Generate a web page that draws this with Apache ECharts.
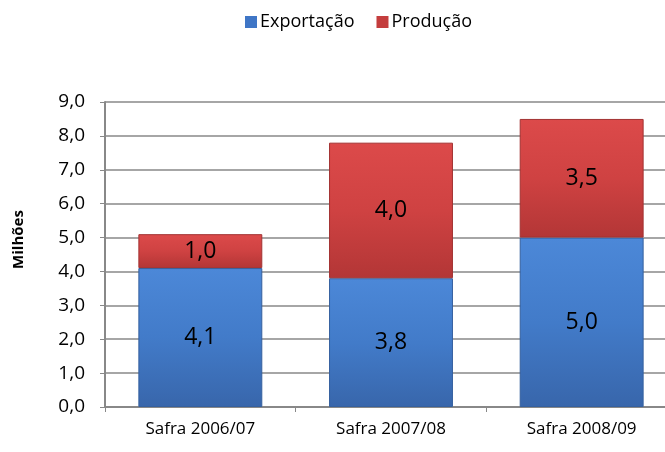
<!DOCTYPE html>
<html>
<head>
<meta charset="utf-8">
<script src="https://cdn.jsdelivr.net/npm/echarts@6/dist/echarts.min.js"></script>
<style>
  html, body { margin: 0; padding: 0; background: #fff; overflow: hidden; width: 665px; height: 452px; }
  #main { width: 677px; height: 452px; }
</style>
</head>
<body>
<div id="main"></div>
<script>
var categories = ['Safra 2006/07', 'Safra 2007/08', 'Safra 2008/09'];
var exportacao = [4.1, 3.8, 5.0];
var producao = [1.0, 4.0, 3.5];

var font = '"Open Sans", "Liberation Sans", sans-serif';

function fmt(v) {
    return v.toFixed(1).replace('.', ',');
}

// vertical shading, lighter on top
function grad(top, mid, bottom) {
    return new echarts.graphic.LinearGradient(0, 0, 0, 1, [
        { offset: 0, color: top },
        { offset: 0.5, color: mid },
        { offset: 1, color: bottom }
    ]);
}

// plot area is wider than the window: the right edge is cut off like in the original
var chart = echarts.init(document.getElementById('main'));
chart.setOption({
    animation: false,
    textStyle: { fontFamily: font },
    legend: {
        top: 8,
        left: 240,
        icon: 'rect',
        itemWidth: 12,
        itemHeight: 12,
        itemGap: 22,
        textStyle: { fontSize: 18, color: '#000', fontFamily: font, padding: [0, 0, 0, -2] },
        data: [
            { name: 'Exportação', itemStyle: { color: '#3f76c6', borderWidth: 0 } },
            { name: 'Produção', itemStyle: { color: '#c43d3d', borderWidth: 0 } }
        ]
    },
    grid: {
        left: 105,
        right: 0,
        top: 102,
        bottom: 45
    },
    xAxis: {
        type: 'category',
        data: categories,
        axisLine: { lineStyle: { color: '#888', width: 2 } },
        axisTick: { show: true, length: 5, lineStyle: { color: '#888' } },
        axisLabel: { fontSize: 17, color: '#000', margin: 14, fontFamily: font }
    },
    yAxis: {
        type: 'value',
        min: 0,
        max: 9,
        interval: 1,
        name: 'Milhões',
        nameLocation: 'middle',
        nameGap: 79,
        nameTextStyle: { fontSize: 15, fontWeight: 'bold', color: '#000', fontFamily: font, padding: [0, 0, 0, 30] },
        axisLine: { show: true, lineStyle: { color: '#888', width: 2 } },
        axisTick: { show: true, length: 5, lineStyle: { color: '#888' } },
        splitLine: { lineStyle: { color: '#a6a6a6', width: 2 } },
        axisLabel: {
            fontSize: 19, color: '#000', margin: 20, fontFamily: font,
            formatter: function (v) { return fmt(v); }
        }
    },
    series: [
        {
            name: 'Exportação',
            type: 'bar',
            stack: 'total',
            barWidth: '65%',
            data: exportacao,
            itemStyle: {
                color: grad('#4c88d8', '#427bc9', '#3866ab'),
                borderColor: '#35609f',
                borderWidth: 1
            },
            label: {
                show: true,
                position: 'inside',
                fontSize: 23,
                color: '#000',
                fontFamily: font,
                formatter: function (p) { return fmt(p.value); }
            }
        },
        {
            name: 'Produção',
            type: 'bar',
            stack: 'total',
            barWidth: '65%',
            data: producao,
            itemStyle: {
                color: grad('#dc4a4a', '#cf4242', '#b33636'),
                borderColor: '#a33232',
                borderWidth: 1
            },
            label: {
                show: true,
                position: 'inside',
                fontSize: 23,
                color: '#000',
                fontFamily: font,
                formatter: function (p) { return fmt(p.value); }
            }
        }
    ]
});
</script>
</body>
</html>
